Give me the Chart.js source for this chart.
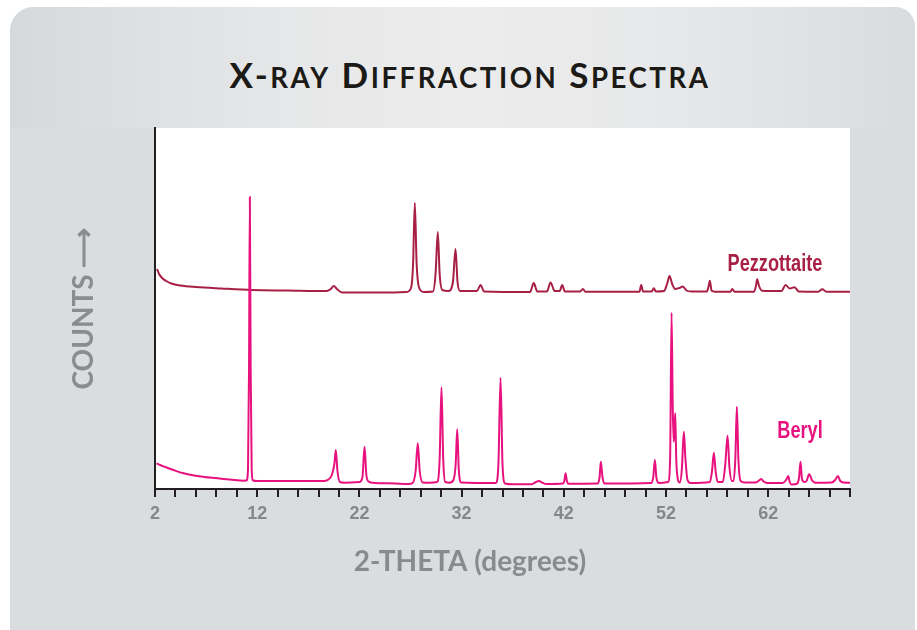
<!DOCTYPE html>
<html lang="en">
<head>
    <meta charset="UTF-8">
    <title>X-Ray Diffraction Spectra</title>
    <script src="https://cdn.jsdelivr.net/npm/chart.js"></script>
    <style>
        html, body {
            margin: 0;
            padding: 0;
            width: 917px;
            height: 630px;
            overflow: hidden;
            background: #ffffff;
        }
        .card {
            position: absolute;
            left: 10px;
            top: 7px;
            width: 905px;
            height: 640px;
            border-radius: 24px 20px 0 0;
            background: #dadde0;
            overflow: hidden;
        }
        .card .band {
            height: 121px;
            background: linear-gradient(to right, #d6d9dc 0%, #e6e7e8 30%, #ececec 50%, #e8e9ea 70%, #d9dcdf 100%);
        }
        h1 {
            position: absolute;
            left: 0;
            top: 57px;
            width: 940px;
            margin: 0;
            text-align: center;
            font: 700 35px/35px Lato, sans-serif;
            letter-spacing: 2.5px;
            color: #1c1a17;
        }
        h1 span {
            font-size: 0.79em;
        }
        #xrdChart {
            position: absolute;
            left: 0;
            top: 0;
        }
    </style>
</head>
<body>
    <div class="card"><div class="band"></div></div>
    <h1>X-<span>RAY</span> D<span>IFFRACTION</span> S<span>PECTRA</span></h1>
    <canvas id="xrdChart" width="917" height="630"></canvas>

    <script>
        // [2-theta, counts], counts in arbitrary units
        const pezzottaite = [
            [2.2, 220], [2.4, 215], [2.7, 211], [3.1, 208], [3.6, 205.5], [4.5, 203.5],
            [6.0, 202], [8.5, 200.5], [11.5, 199], [15, 198.5], [18.8, 198],
            [19.2, 200], [19.5, 203], [19.8, 200], [20.3, 196.5], [24, 196.5],
            [26.6, 197], [27.05, 201], [27.25, 225], [27.42, 286], [27.6, 225], [27.85, 201], [28.3, 197],
            [29.2, 197.5], [29.45, 215], [29.67, 257], [29.85, 215], [30.1, 199],
            [30.7, 198], [31.15, 207], [31.4, 240], [31.6, 207], [31.85, 198],
            [33.5, 198], [33.85, 204], [34.2, 197.5],
            [38.7, 197], [39.06, 206], [39.4, 197.5],
            [40.35, 197.5], [40.7, 206.5], [41.1, 198],
            [41.6, 198], [41.84, 204], [42.1, 197.5],
            [43.6, 197.5], [43.86, 200], [44.1, 197.3],
            [49.4, 197.3], [49.57, 204], [49.75, 197.5],
            [50.6, 197.5], [50.81, 200.7], [51.0, 197.5],
            [51.8, 198], [52.1, 205], [52.34, 213], [52.6, 205], [52.9, 200],
            [53.3, 201], [53.64, 202.5], [54.0, 198.5], [54.5, 197.5],
            [56.0, 197.5], [56.15, 202], [56.29, 208.3], [56.45, 198.5], [56.8, 197.3],
            [58.3, 197.3], [58.48, 200], [58.7, 197.3],
            [60.6, 197.3], [60.8, 203], [60.92, 209.7], [61.1, 203], [61.4, 198.3],
            [63.3, 198], [63.69, 204], [64.1, 200.5], [64.57, 201.7], [65.0, 197.5],
            [66.9, 197.3], [67.28, 199.7], [67.7, 197.3], [70, 197.3]
        ];

        const beryl = [
            [2.15, 25.7], [2.5, 24], [3.0, 22], [3.8, 19], [4.8, 15.7], [6.3, 12.8], [8.1, 10.7],
            [9.5, 9.2], [10.66, 8.3],
            [10.95, 8.5], [11.1, 20], [11.2, 120], [11.28, 292], [11.36, 120], [11.46, 20], [11.6, 8.5],
            [12, 8], [18.5, 8],
            [18.9, 9], [19.3, 14], [19.55, 25], [19.69, 39], [19.85, 18], [20.1, 7], [20.5, 6.3],
            [22.0, 7], [22.3, 12], [22.5, 42.3], [22.68, 14], [22.9, 7.5], [23.3, 6.3],
            [25.5, 5.5], [26.8, 5],
            [27.2, 6], [27.5, 18], [27.71, 45.7], [27.9, 18], [28.2, 6.5], [28.8, 6.3],
            [29.6, 7], [29.85, 30], [30.03, 101.7], [30.2, 30], [30.4, 7], [30.8, 6.3],
            [31.2, 9], [31.42, 25], [31.57, 59.7], [31.72, 20], [31.95, 6.5],
            [35.35, 6], [35.6, 25], [35.81, 111.3], [36.0, 25], [36.25, 5.5], [37, 4.7],
            [38.8, 4.7], [39.2, 6.5], [39.55, 8], [39.9, 6.3], [40.3, 5],
            [41.9, 5.5], [42.05, 8], [42.17, 15.7], [42.3, 8], [42.45, 5.3],
            [45.3, 5.5], [45.5, 12], [45.62, 27.3], [45.78, 12], [46.0, 5.5],
            [50.55, 6], [50.75, 12], [50.91, 29], [51.05, 12], [51.3, 6],
            [52.2, 7], [52.4, 30], [52.54, 176.3], [52.66, 80], [52.75, 47.3], [52.83, 60], [52.9, 75.7],
            [53.0, 30], [53.15, 10], [53.35, 6.5], [53.55, 20], [53.74, 57.3], [53.9, 30], [54.1, 9], [54.4, 6],
            [56.3, 7], [56.5, 18], [56.68, 36.3], [56.85, 18], [57.05, 7],
            [57.55, 7], [57.8, 25], [58.02, 53.3], [58.2, 22], [58.45, 8],
            [58.6, 8], [58.78, 30], [58.93, 82.3], [59.08, 30], [59.3, 8], [59.7, 6.5],
            [60.8, 6.5], [61.1, 8.5], [61.31, 10], [61.55, 7.5], [61.9, 6],
            [63.4, 6], [63.75, 9], [63.96, 13], [64.1, 7], [64.3, 4.5],
            [64.85, 5.5], [65.02, 12], [65.16, 27.3], [65.3, 10], [65.55, 7],
            [65.75, 8], [66.01, 14.7], [66.3, 8.5], [66.6, 6.3],
            [68.2, 6.5], [68.55, 9], [68.81, 13], [69.05, 8], [69.4, 6.5], [70, 6.3]
        ];

        const xTickLabels = [2, 12, 22, 32, 42, 52, 62];
        const seriesNames = ['Pezzottaite', 'Beryl'];
        const seriesColors = ['#a81f45', '#e8127f'];
        // baseline-centre of each series name, in [2-theta, counts]
        const nameAnchors = [[62.66, 218.3], [65.11, 51.3]];

        // white plotting field behind the traces
        const plotField = {
            id: 'plotField',
            beforeDraw(chart) {
                const { ctx, chartArea: a } = chart;
                ctx.save();
                ctx.fillStyle = '#ffffff';
                ctx.fillRect(a.left, a.top, a.right - a.left, a.bottom - a.top);
                ctx.restore();
            }
        };

        // series names next to their traces, squeezed to look condensed
        const traceNames = {
            id: 'traceNames',
            afterDatasetsDraw(chart) {
                const { ctx, scales } = chart;
                seriesNames.forEach((name, i) => {
                    const px = scales.x.getPixelForValue(nameAnchors[i][0]);
                    const py = scales.y.getPixelForValue(nameAnchors[i][1]);
                    ctx.save();
                    ctx.translate(px, py);
                    ctx.scale(0.79, 1);
                    ctx.font = 'bold 23px "Liberation Sans", Arial, sans-serif';
                    ctx.textAlign = 'center';
                    ctx.textBaseline = 'alphabetic';
                    ctx.fillStyle = seriesColors[i];
                    ctx.fillText(name, 0, 0);
                    ctx.restore();
                });
            }
        };

        const toPoints = rows => rows.map(([x, y]) => ({ x, y }));

        new Chart(document.getElementById('xrdChart'), {
            type: 'line',
            data: {
                datasets: [
                    {
                        label: seriesNames[0],
                        data: toPoints(pezzottaite),
                        borderColor: seriesColors[0],
                        borderWidth: 2,
                        pointRadius: 0,
                        fill: false,
                        cubicInterpolationMode: 'monotone',
                        order: 2
                    },
                    {
                        label: seriesNames[1],
                        data: toPoints(beryl),
                        borderColor: seriesColors[1],
                        borderWidth: 2,
                        pointRadius: 0,
                        fill: false,
                        cubicInterpolationMode: 'monotone',
                        order: 1
                    }
                ]
            },
            options: {
                responsive: false,
                animation: false,
                layout: { padding: { left: 90, right: 67, top: 128, bottom: 51.2 } },
                plugins: {
                    legend: { display: false },
                    tooltip: { enabled: false },
                    subtitle: {
                        display: true,
                        position: 'bottom',
                        text: '2-THETA (degrees)',
                        color: '#888a8d',
                        font: { family: 'Lato', size: 28, weight: 'bold', lineHeight: 1.2 },
                        padding: 0
                    }
                },
                scales: {
                    x: {
                        type: 'linear',
                        min: 2,
                        max: 70,
                        afterFit: scale => { scale.height = 56.2; },
                        border: { color: '#231f20', width: 2 },
                        grid: { drawOnChartArea: false, tickLength: 8, color: '#231f20', lineWidth: 2 },
                        ticks: {
                            stepSize: 2,
                            autoSkip: false,
                            maxRotation: 0,
                            padding: 6,
                            color: '#85878a',
                            font: { family: '"Liberation Sans", Arial, sans-serif', size: 18, weight: 'bold' },
                            callback: v => xTickLabels.includes(v) ? String(v) : ''
                        }
                    },
                    y: {
                        min: 0,
                        max: 361,
                        afterFit: scale => { scale.width = 65; },
                        border: { color: '#231f20', width: 2 },
                        grid: { display: false },
                        ticks: { display: false },
                        title: {
                            display: true,
                            text: 'COUNTS \u27F6',
                            color: '#8a8c8f',
                            font: { family: 'Lato', size: 28, weight: 'bold', lineHeight: 1.2 },
                            padding: { top: -22.8, bottom: 0 }
                        }
                    }
                }
            },
            plugins: [plotField, traceNames]
        });
    </script>
</body>
</html>
